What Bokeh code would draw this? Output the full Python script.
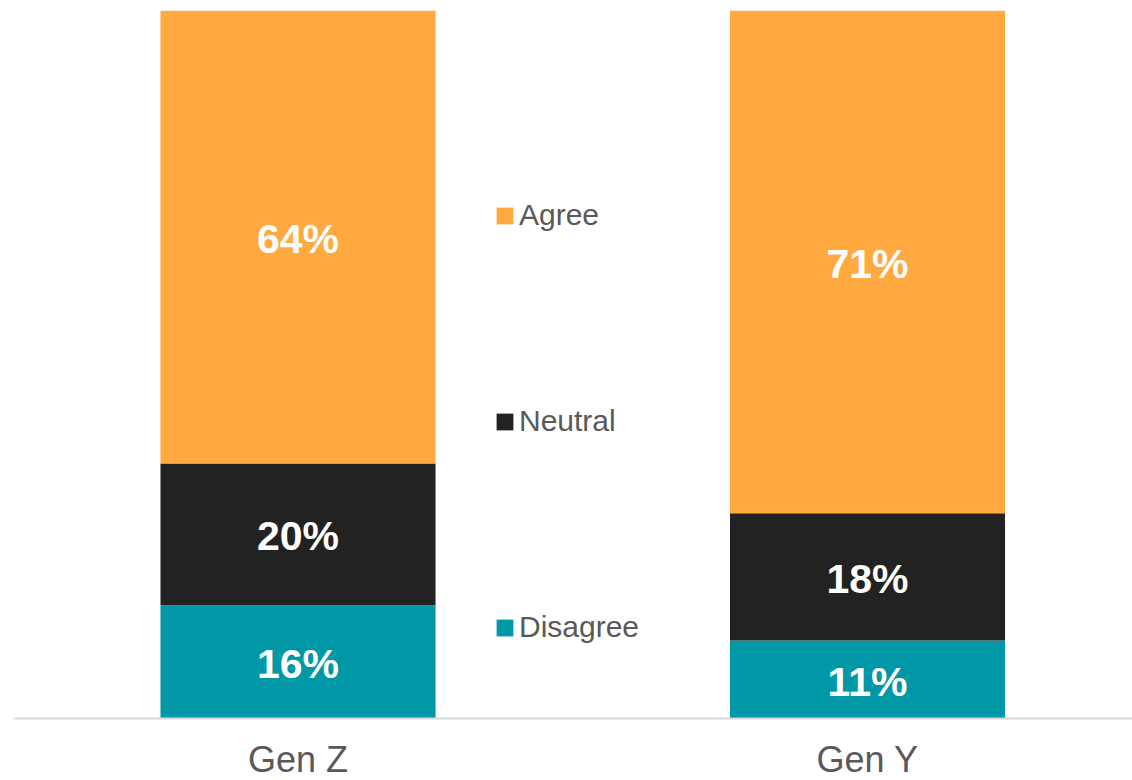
from bokeh.plotting import figure
from bokeh.models import Range1d, ColumnDataSource, Legend, LegendItem, FixedTicker
from bokeh.core.properties import value
from bokeh.embed import file_html
from bokeh.resources import INLINE

categories = ["Gen Z", "Gen Y"]
series = ["Disagree", "Neutral", "Agree"]
disagree = [16, 11]
neutral = [20, 18]
agree = [64, 71]
colors = ["#0097A7", "#222222", "#FFA940"]

xs = list(range(len(categories)))
src = ColumnDataSource(dict(x=xs, Disagree=disagree, Neutral=neutral, Agree=agree))

# frame spans page y 10..780; value 0 sits 62px above the bottom edge
p = figure(width=1132, height=780, output_backend="svg", toolbar_location=None,
           x_range=Range1d(-0.4996, 1.4653), y_range=Range1d(-62 / 7.08, 100),
           min_border_left=13, min_border_right=0, min_border_top=10, min_border_bottom=0)
p.outline_line_color = None
p.grid.visible = False
p.yaxis.visible = False
p.background_fill_color = "white"
p.border_fill_color = "white"

rs = p.vbar_stack(series, x="x", width=0.483, color=colors, source=src, line_color=None)

# data labels
lx, ly, lt = [], [], []
vals = [disagree, neutral, agree]
for i in xs:
    base = 0
    for v in vals:
        lx.append(i)
        ly.append(base + v[i] / 2)
        lt.append(f"{v[i]}%")
        base += v[i]
lsrc = ColumnDataSource(dict(x=lx, y=ly, t=lt))
p.text(x="x", y="y", text="t", source=lsrc, text_align="center",
       text_baseline="middle", text_color="white", text_font=value("Liberation Sans"),
       text_font_style="bold", text_font_size="41px", y_offset=2)

ax = p.xaxis[0]
ax.fixed_location = 0
ax.ticker = FixedTicker(ticks=xs)
ax.major_label_overrides = {i: c for i, c in zip(xs, categories)}
ax.axis_line_color = "#D9D9D9"
ax.axis_line_width = 2
ax.major_tick_line_color = None
ax.minor_tick_line_color = None
ax.major_tick_out = 0
ax.major_label_text_font = "Liberation Sans"
ax.major_label_text_font_size = "36px"
ax.major_label_text_color = "#595959"
ax.major_label_standoff = 20

items = [LegendItem(label=s, renderers=[r]) for s, r in zip(series, rs)][::-1]
legend = Legend(items=items, location=(481, 136), orientation="vertical",
                glyph_width=21, glyph_height=21, label_standoff=4,
                label_text_font="Liberation Sans", label_text_font_size="30px",
                label_text_color="#595959", spacing=172, padding=0, margin=0,
                border_line_color=None, background_fill_alpha=0)
p.add_layout(legend, "center")

open("out.html", "w").write(file_html(p, INLINE))
